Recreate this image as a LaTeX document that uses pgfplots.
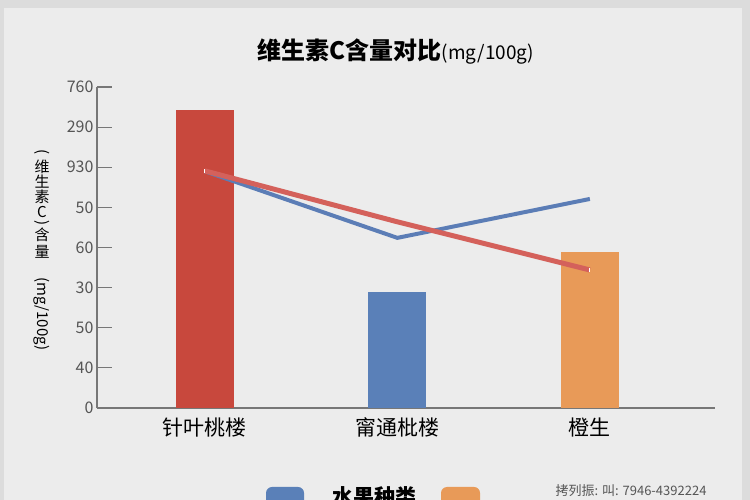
\documentclass[border=0pt]{standalone}
\usepackage{fontspec}
\setmainfont{Noto Sans CJK SC}
\usepackage{pgfplots}
\pgfplotsset{compat=1.18}

\definecolor{bg}{HTML}{ECECEC}
\definecolor{edge}{HTML}{DCDCDC}
\definecolor{barred}{HTML}{C8483D}
\definecolor{barblue}{HTML}{5A80B8}
\definecolor{barorange}{HTML}{E89A58}
\definecolor{linered}{HTML}{D4615B}
\definecolor{lineblue}{HTML}{5B7DB6}
\definecolor{axisgray}{HTML}{777777}
\definecolor{ticktext}{HTML}{555555}

\begin{document}
\begin{tikzpicture}[x=1bp,y=1bp]
  \useasboundingbox (0,0) rectangle (750,500);
  \fill[edge] (0,0) rectangle (750,500);
  \fill[bg] (4,0) rectangle (742,492);

  % title
  \node[anchor=base] at (396,440)
    {\fontsize{24bp}{28bp}\selectfont\bfseries 维生素C含量对比\fontsize{19bp}{22bp}\selectfont\mdseries(mg/100g)};

  \begin{axis}[
      at={(97bp,92bp)}, anchor=south west,
      scale only axis,
      width=618bp, height=321bp,
      xmin=-0.56, xmax=2.65,
      ymin=0, ymax=8,
      axis x line*=bottom, axis y line*=left,
      axis line style={axisgray, line width=1.2pt},
      every outer x axis line/.append style={-},
      every outer y axis line/.append style={-},
      xtick={0,1,2},
      xticklabels={针叶桃楼, 甯通枇楼, 橙生},
      x tick label style={font=\fontsize{21bp}{24bp}\selectfont, text=black, yshift=-6bp},
      major x tick style={draw=none},
      ytick={0,1,2,3,4,5,6,7,8},
      yticklabels={0,40,50,30,60,50,930,290,760},
      y tick label style={font=\fontsize{16bp}{18bp}\selectfont, text=ticktext},
      /pgf/number format/assume math mode=true,
      major y tick style={axisgray, line width=1.2pt},
      major tick length=15bp,
      tick align=inside,
      clip=false,
    ]
    \addplot[ybar, bar width=58bp, bar shift=0pt, fill=barred, draw=none]
      coordinates {(0,7.43)};
    \addplot[ybar, bar width=58bp, bar shift=0pt, fill=barblue, draw=none]
      coordinates {(1,2.89)};
    \addplot[ybar, bar width=58bp, bar shift=0pt, fill=barorange, draw=none]
      coordinates {(2,3.89)};
    % lines
    \addplot[lineblue, line width=4pt, no markers]
      coordinates {(0,5.9) (1,4.24) (2,5.21)};
    \addplot[linered, line width=5pt, mark=|, mark indices={1,3},
             mark options={white, line width=1.2pt, scale=0.9}]
      coordinates {(0,5.91) (1,4.64) (2,3.44)};
  \end{axis}

  % y label, set vertically glyph by glyph
  \begin{scope}[every node/.style={font=\fontsize{15bp}{16bp}\selectfont, inner sep=0}]
    \node[rotate=-90] at (42,348) {(};
    \node at (42,333) {维};
    \node at (42,318) {生};
    \node at (42,303) {素};
    \node at (42,288) {C};
    \node[rotate=-90] at (42,277) {)};
    \node at (42,265) {含};
    \node at (42,248) {量};
    \node[rotate=-90] at (42,186) {(mg/100g)};
  \end{scope}

  % legend (cut by the page edge)
  \fill[rounded corners=6bp, barblue] (266,-12) rectangle (304,13);
  \fill[rounded corners=6bp, barorange] (441,-12) rectangle (480,13);
  \node[anchor=base] at (374,-5)
    {\fontsize{21bp}{24bp}\selectfont\bfseries 水果种类};

  % watermark
  \node[anchor=base east, text=ticktext] at (710,4)
    {\fontsize{13bp}{15bp}\selectfont 拷列振: 叫: 7946-4392224};
\end{tikzpicture}
\end{document}
